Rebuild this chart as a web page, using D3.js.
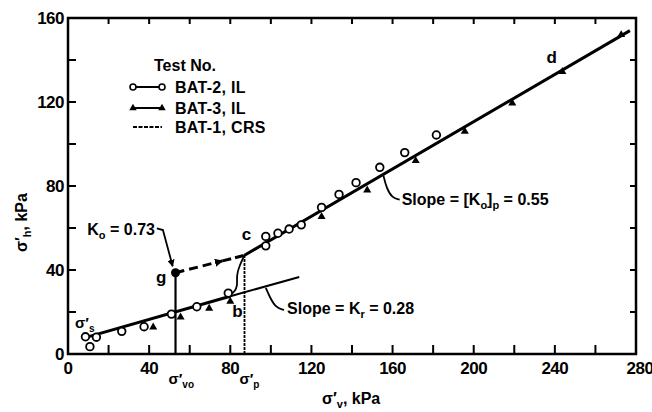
<!DOCTYPE html>
<html><head><meta charset="utf-8">
<script src="https://cdn.jsdelivr.net/npm/d3@7"></script>
<style>
body{margin:0;background:#fff;}
text{font-family:"Liberation Sans",Arial,sans-serif;font-weight:bold;fill:#000;}
</style></head>
<body><svg id="c" width="652" height="412"></svg>
<script>
// ---- data ----
const xTickLabels = [0,40,80,120,160,200,240,280];
const yTickLabels = [0,40,80,120,160];
const minorStep = 20;
// BAT-2, IL (open circles)  [sigma'v, sigma'h]
const bat2 = [[8.6,8.2],[10.8,3.5],[14,8],[26.5,10.8],[37.5,13],[51,19],[63.5,22.5],[79,29],
  [97.5,56],[97.5,51.5],[103.5,57.5],[109,59.5],[115,61.5],[125,69.8],[133.6,76],[142,81.6],
  [153.7,88.9],[166,95.9],[181.6,104.3]];
// BAT-3, IL (triangles)
const bat3 = [[42,12.8],[55.5,17.5],[69.6,21.7],[80,25],[125,65.4],[147.5,78],[171.4,92],
  [195.6,106],[219,119.4],[243.7,134.4],[272.7,152]];
// BAT-1, CRS and fitted lines
const krLineThick = [[8.5,7.8],[80,27.5]];
const krLineThin = [[80,27.5],[114,36.7]];
const crsCurve = [[79,28.3],[81.5,28.8],[83.7,32],[83,37.6],[84.7,42.4],[87,47]];
const mainLine = [[87,47],[277,154]];
const sigmaVo = 53, gPoint = [53,38.7];
const sigmaP = 87, cPoint = [87,47];

// ---- layout ----
const svg = d3.select("#c");
const x = d3.scaleLinear([0,280],[68,636]);
const y = d3.scaleLinear([0,160],[354,18]);
const line = d3.line().x(d=>x(d[0])).y(d=>y(d[1]));

// frame
svg.append("rect").attr("x",x(0)).attr("y",y(160)).attr("width",x(280)-x(0)).attr("height",y(0)-y(160))
  .attr("fill","none").attr("stroke","#000").attr("stroke-width",2.5);

// ticks
const xMinor = d3.range(20,280,minorStep), yMinor = d3.range(20,160,minorStep);
xMinor.forEach(v=>{
  svg.append("line").attr("x1",x(v)).attr("x2",x(v)).attr("y1",y(0)).attr("y2",y(0)-9).attr("stroke","#000").attr("stroke-width",2);
  svg.append("line").attr("x1",x(v)).attr("x2",x(v)).attr("y1",y(160)).attr("y2",y(160)+6).attr("stroke","#000").attr("stroke-width",2);
});
yMinor.forEach(v=>{
  svg.append("line").attr("x1",x(0)).attr("x2",x(0)+8).attr("y1",y(v)).attr("y2",y(v)).attr("stroke","#000").attr("stroke-width",2);
  svg.append("line").attr("x1",x(280)).attr("x2",x(280)-6).attr("y1",y(v)).attr("y2",y(v)).attr("stroke","#000").attr("stroke-width",2);
});
xTickLabels.forEach(v=>{
  svg.append("text").attr("x",x(v)+(v===280?4:0)).attr("y",374).attr("text-anchor","middle")
    .style("font-size","17px").style("letter-spacing","-0.5px").text(v);
});
yTickLabels.forEach(v=>{
  svg.append("text").attr("x",64).attr("y",y(v)+6).attr("text-anchor","end")
    .style("font-size","17px").style("letter-spacing","-0.5px").text(v);
});

// axis titles
const xt = svg.append("text").attr("x",322).attr("y",404).style("font-size","16px");
xt.append("tspan").text("σ′");
xt.append("tspan").attr("dy",4).style("font-size","11px").text("v");
xt.append("tspan").attr("dy",-4).text(", kPa");

const yt = svg.append("text").attr("transform","translate(27,252) rotate(-90)").style("font-size","16px");
yt.append("tspan").text("σ′");
yt.append("tspan").attr("dy",4).style("font-size","11px").text("h");
yt.append("tspan").attr("dy",-4).text(", kPa");

// arrow marker
const defs = svg.append("defs");
defs.append("marker").attr("id","arr").attr("viewBox","0 0 10 10").attr("refX",9).attr("refY",5)
  .attr("markerWidth",4).attr("markerHeight",4).attr("orient","auto")
  .append("path").attr("d","M0,0L10,5L0,10z").attr("fill","#000");
defs.append("marker").attr("id","arr2").attr("viewBox","0 0 10 10").attr("refX",9).attr("refY",5)
  .attr("markerWidth",2.8).attr("markerHeight",2.8).attr("orient","auto")
  .append("path").attr("d","M0,0L10,5L0,10z").attr("fill","#000");

// vertical lines
svg.append("path").attr("d",line([[sigmaVo,0],gPoint])).attr("stroke","#000").attr("stroke-width",2.2).attr("fill","none");
svg.append("path").attr("d",line([[sigmaP,0],cPoint])).attr("stroke","#000").attr("stroke-width",1.8)
  .attr("stroke-dasharray","3,1").attr("fill","none");

// lines
svg.append("path").attr("d",line(krLineThick)).attr("stroke","#000").attr("stroke-width",3).attr("fill","none");
svg.append("path").attr("d",line(krLineThin)).attr("stroke","#000").attr("stroke-width",2).attr("fill","none");
svg.append("path").attr("d",d3.line().x(d=>x(d[0])).y(d=>y(d[1])).curve(d3.curveBasis)(crsCurve))
  .attr("stroke","#000").attr("stroke-width",1.8).attr("fill","none");
svg.append("path").attr("d",line(mainLine)).attr("stroke","#000").attr("stroke-width",3).attr("fill","none");
// dashed g -> c with arrow
const mid = [gPoint[0]+(cPoint[0]-gPoint[0])*0.68, gPoint[1]+(cPoint[1]-gPoint[1])*0.68];
svg.append("path").attr("d",line([gPoint,mid])).attr("stroke","#000").attr("stroke-width",3)
  .attr("stroke-dasharray","9,5").attr("fill","none").attr("marker-end","url(#arr2)");
svg.append("path").attr("d",line([mid,cPoint])).attr("stroke","#000").attr("stroke-width",3)
  .attr("stroke-dasharray","9,4").attr("fill","none");

// g point
svg.append("circle").attr("cx",x(gPoint[0])).attr("cy",y(gPoint[1])).attr("r",4.5).attr("fill","#000");

// markers
svg.selectAll(".c2").data(bat2).join("circle").attr("cx",d=>x(d[0])).attr("cy",d=>y(d[1])).attr("r",3.8)
  .attr("fill","#fff").attr("stroke","#000").attr("stroke-width",1.8);
const tri = d3.symbol().type(d3.symbolTriangle).size(28);
svg.selectAll(".t3").data(bat3).join("path").attr("d",tri).attr("transform",d=>`translate(${x(d[0])},${y(d[1])})`)
  .attr("fill","#000");

// annotations (positions in data units)
function lbl(v,h,txt,size,anchor){return svg.append("text").attr("x",x(v)).attr("y",y(h)).attr("text-anchor",anchor||"middle").style("font-size",(size||15)+"px").text(txt);}
lbl(46,34,"g",17); lbl(88,54.5,"c",17); lbl(83.5,17.5,"b",17); lbl(238.5,138.5,"d",17);

// K0 label
const k0 = svg.append("text").attr("x",x(9.5)).attr("y",y(56.5)).style("font-size","16px");
k0.append("tspan").text("K");
k0.append("tspan").attr("dy",4).style("font-size","11px").text("o");
k0.append("tspan").attr("dy",-4).text(" = 0.73");
svg.append("path").attr("d",line([[43.8,59.8],[46.8,59],[51.6,41.8]])).attr("stroke","#000").attr("stroke-width",1.8)
  .attr("fill","none").attr("marker-end","url(#arr)");

// slope 0.55
const s1 = svg.append("text").attr("x",x(164.5)).attr("y",y(71)).style("font-size","16px");
s1.append("tspan").text("Slope = [K");
s1.append("tspan").attr("dy",4).style("font-size","11px").text("o");
s1.append("tspan").attr("dy",-4).text("]");
s1.append("tspan").attr("dy",4).style("font-size","11px").text("p");
s1.append("tspan").attr("dy",-4).text(" = 0.55");
svg.append("path").attr("d",d3.line().x(d=>x(d[0])).y(d=>y(d[1])).curve(d3.curveBasis)([[155.5,85],[157,79],[159.8,74.3],[163.5,73.5]]))
  .attr("stroke","#000").attr("stroke-width",1.8).attr("fill","none");

// slope 0.28
const s2 = svg.append("text").attr("x",x(108)).attr("y",y(19)).style("font-size","16px");
s2.append("tspan").text("Slope = K");
s2.append("tspan").attr("dy",4).style("font-size","11px").text("r");
s2.append("tspan").attr("dy",-4).text(" = 0.28");
svg.append("path").attr("d",d3.line().x(d=>x(d[0])).y(d=>y(d[1])).curve(d3.curveBasis)([[97.5,31.5],[99.5,27],[102.5,22],[106.5,21]]))
  .attr("stroke","#000").attr("stroke-width",1.8).attr("fill","none");

// sigma's, sigma'vo, sigma'p
function sig(px,py,sub,size){
  const t = svg.append("text").attr("x",px).attr("y",py).style("font-size",(size||15)+"px");
  t.append("tspan").text("σ′");
  t.append("tspan").attr("dy",4).style("font-size","10px").text(sub);
  return t;
}
sig(x(3.5),y(12.5),"s");
sig(x(sigmaVo)-7,384,"vo");
sig(x(sigmaP)-5,384,"p");

// legend
const lg = svg.append("g");
lg.append("text").attr("x",154).attr("y",71).style("font-size","16px").text("Test No.");
[[87,"BAT-2, IL","c"],[108,"BAT-3, IL","t"],[127,"BAT-1, CRS","l"]].forEach(([ly,txt,k])=>{
  lg.append("line").attr("x1",133).attr("x2",162).attr("y1",ly).attr("y2",ly).attr("stroke","#000")
    .attr("stroke-width",k==="l"?1.8:2).attr("stroke-dasharray",k==="l"?"4,1.5":null);
  if(k==="c"){[133,162].forEach(cx=>lg.append("circle").attr("cx",cx).attr("cy",ly).attr("r",3).attr("fill","#fff").attr("stroke","#000").attr("stroke-width",1.6));}
  if(k==="t"){[133,162].forEach(cx=>lg.append("path").attr("d",d3.symbol().type(d3.symbolTriangle).size(24)).attr("transform",`translate(${cx},${ly})`).attr("fill","#000"));}
  lg.append("text").attr("x",175).attr("y",ly+6).style("font-size","16px").style("letter-spacing","0.3px").text(txt);
});
</script></body></html>
